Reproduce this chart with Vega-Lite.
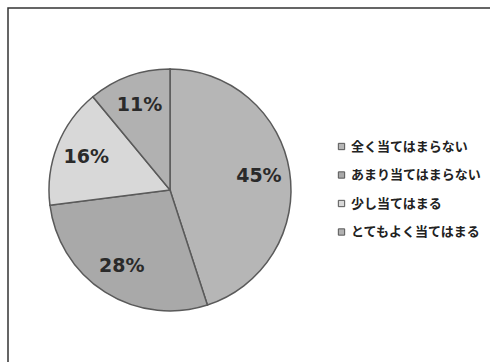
{
  "$schema": "https://vega.github.io/schema/vega-lite/v6.json",
  "autosize": "none",
  "padding": {"left": 8, "top": 8, "right": 0, "bottom": 0},
  "width": 490,
  "height": 362,
  "background": "white",
  "view": {"stroke": "#333333", "strokeWidth": 1.5},
  "data": {
    "values": [
      {"category": "全く当てはまらない", "pct": 45, "order": 1, "label": "45%"},
      {"category": "あまり当てはまらない", "pct": 28, "order": 2, "label": "28%"},
      {"category": "少し当てはまる", "pct": 16, "order": 3, "label": "16%"},
      {"category": "とてもよく当てはまる", "pct": 11, "order": 4, "label": "11%"}
    ]
  },
  "encoding": {
    "theta": {"field": "pct", "type": "quantitative", "stack": true},
    "order": {"field": "order", "type": "quantitative"}
  },
  "layer": [
    {
      "mark": {"type": "arc", "x": 162, "y": 182, "outerRadius": 121, "stroke": "#5a5a5a", "strokeWidth": 1.5},
      "encoding": {
        "color": {
          "field": "category",
          "type": "nominal",
          "sort": ["全く当てはまらない", "あまり当てはまらない", "少し当てはまる", "とてもよく当てはまる"],
          "scale": {
            "domain": ["全く当てはまらない", "あまり当てはまらない", "少し当てはまる", "とてもよく当てはまる"],
            "range": ["#b6b6b6", "#a9a9a9", "#d8d8d8", "#b1b1b1"]
          },
          "legend": {
            "title": null,
            "orient": "none",
            "legendX": 327,
            "legendY": 132,
            "symbolType": "square",
            "symbolSize": 40,
            "symbolStrokeColor": "#555555",
            "symbolStrokeWidth": 1,
            "labelFont": "Noto Sans CJK JP",
            "labelFontSize": 13,
            "labelFontWeight": "bold",
            "labelColor": "#222222",
            "labelOffset": 3,
            "rowPadding": 14.5,
            "labelLimit": 200
          }
        }
      }
    },
    {
      "mark": {"type": "text", "x": 162, "y": 182, "radius": 90, "font": "DejaVu Sans", "fontSize": 19, "fontWeight": "bold", "color": "#2a2a2a"},
      "encoding": {
        "text": {"field": "label", "type": "nominal"}
      }
    }
  ]
}
